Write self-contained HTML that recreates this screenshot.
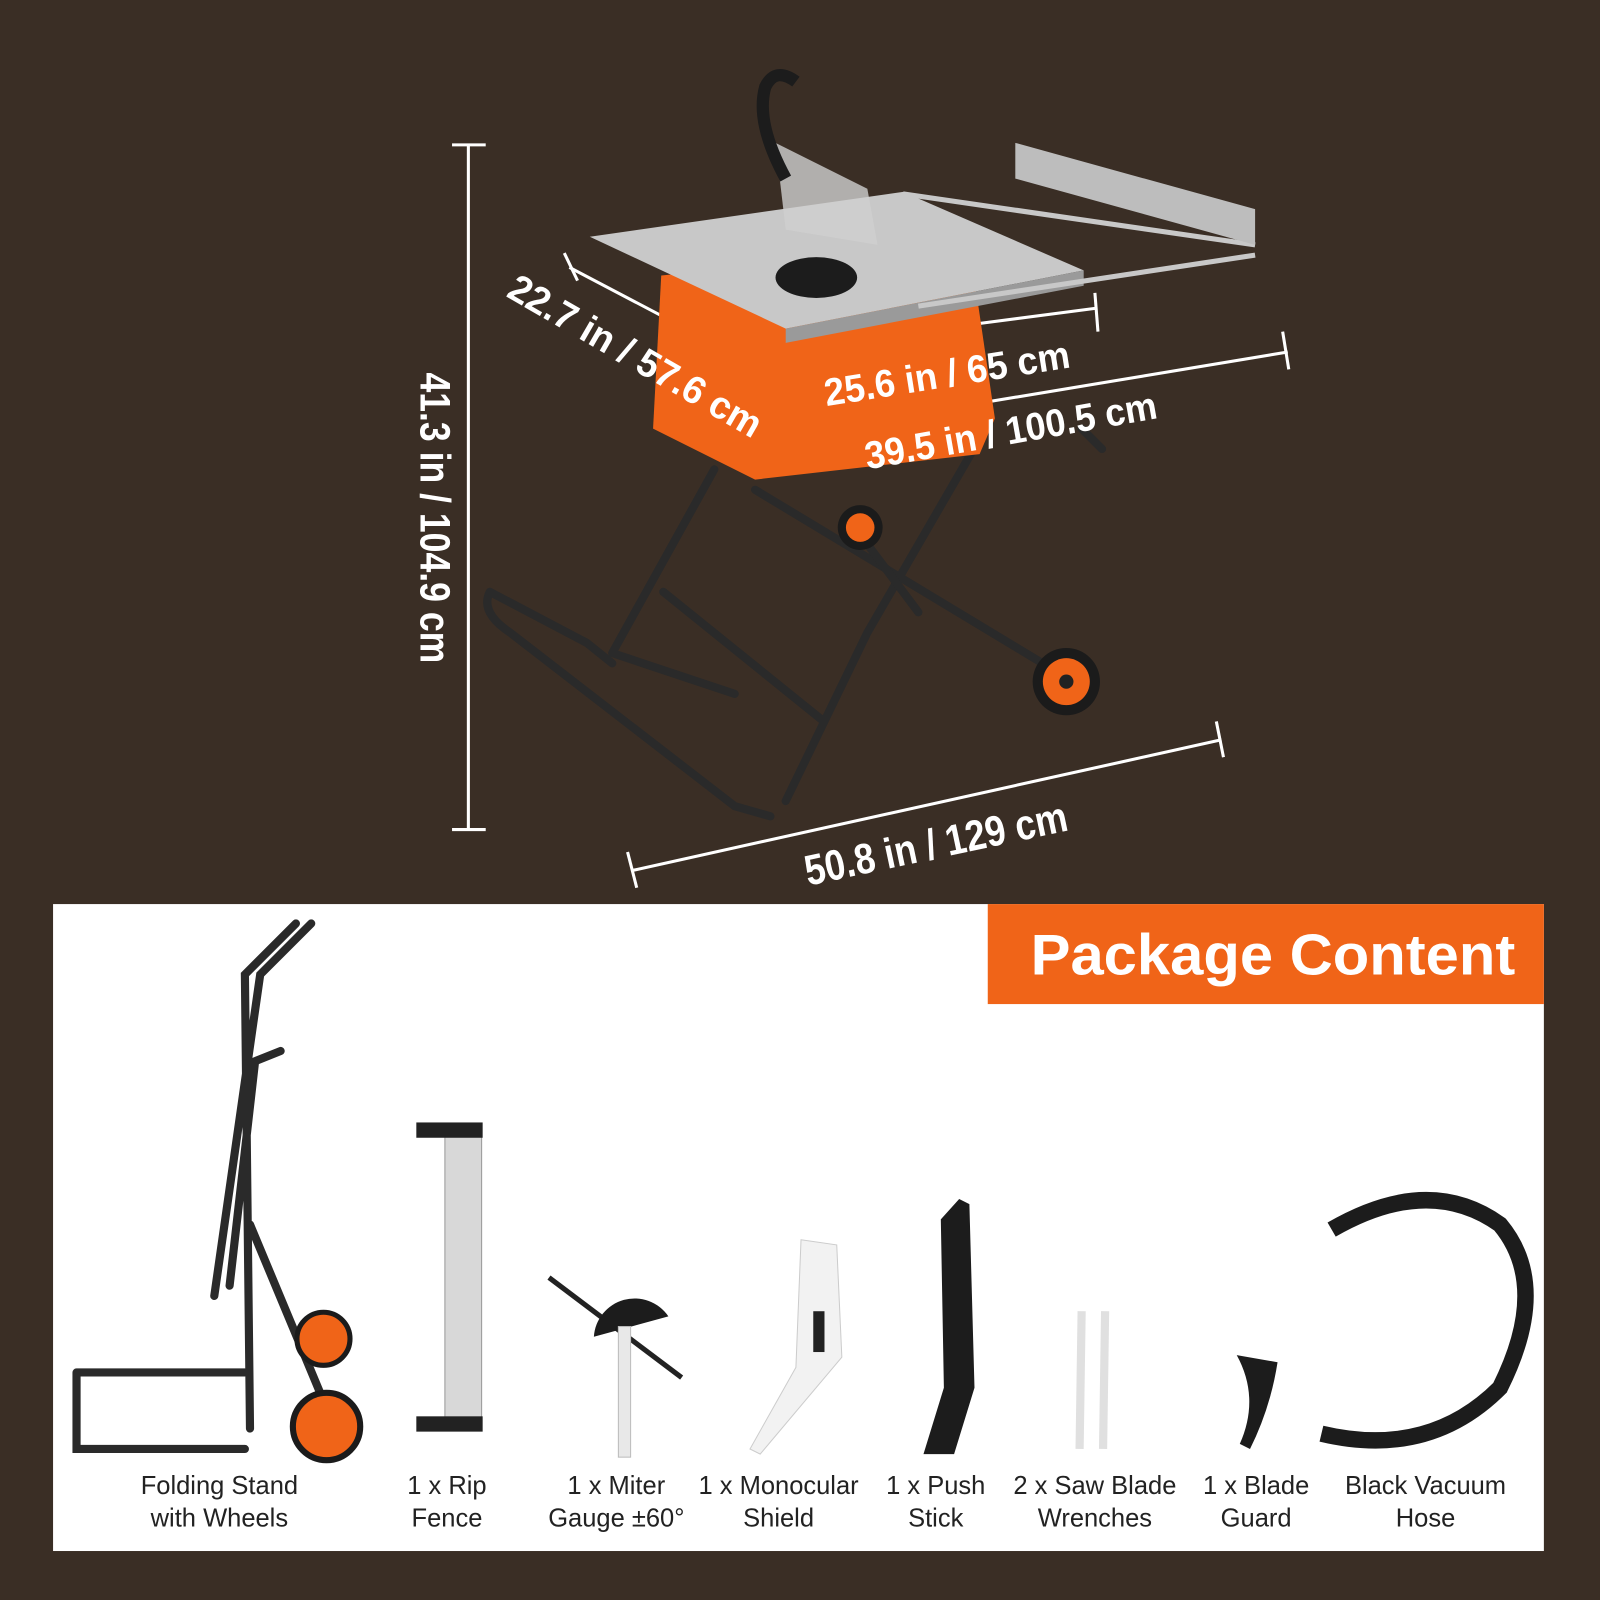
<!DOCTYPE html>
<html><head><meta charset="utf-8"><style>
html,body{margin:0;padding:0;background:#3a2e25;}
svg{display:block}
</style></head><body>
<svg width="1600" height="1600" viewBox="0 0 1568 1568" xmlns="http://www.w3.org/2000/svg" font-family="Liberation Sans, sans-serif">
<rect width="1568" height="1568" fill="#3a2e25"/>
<g stroke="#fff" stroke-width="3" fill="none">
<line x1="459" y1="142" x2="459" y2="813"/><line x1="443" y1="142" x2="476" y2="142"/><line x1="443" y1="813" x2="476" y2="813"/>
<line x1="620" y1="853" x2="1197" y2="725"/><line x1="615" y1="835" x2="624" y2="870"/><line x1="1192" y1="707" x2="1199" y2="742"/>
<line x1="558" y1="262" x2="735" y2="355"/><line x1="553" y1="248" x2="566" y2="275"/><line x1="726" y1="338" x2="744" y2="368"/>
<line x1="745" y1="345" x2="1075" y2="302"/><line x1="745" y1="330" x2="748" y2="378"/><line x1="1073" y1="287" x2="1076" y2="325"/>
<line x1="762" y1="428" x2="1262" y2="345"/><line x1="758" y1="410" x2="764" y2="445"/><line x1="1257" y1="325" x2="1263" y2="362"/>
</g>
<g stroke="#2a2a2a" stroke-width="8" fill="none" stroke-linecap="round">
<path d="M480 580 L575 630 L600 650 M480 580 Q470 600 500 620 L720 790 L755 800"/>
<path d="M700 460 L600 640 M960 430 L850 620 L770 785 M740 480 L1030 655 M650 580 L805 705 M600 640 L720 680"/>
<path d="M1060 420 L1080 440 M840 520 L900 600"/>
</g>
<circle cx="1045" cy="668" r="33" fill="#1b1b1b"/><circle cx="1045" cy="668" r="23" fill="#f06418"/><circle cx="1045" cy="668" r="7" fill="#222"/>
<circle cx="843" cy="517" r="22" fill="#1b1b1b"/><circle cx="843" cy="517" r="14" fill="#f06418"/>
<polygon points="648,270 950,240 975,410 960,445 740,470 640,420" fill="#f06418"/>
<polygon points="578,232 885,188 1062,265 770,322" fill="#c8c8c8"/>
<polygon points="770,322 1062,265 1062,280 770,336" fill="#9a9a9a"/>
<g stroke="#c8c8c8" stroke-width="5"><line x1="885" y1="190" x2="1230" y2="240"/><line x1="900" y1="300" x2="1230" y2="250"/></g>
<polygon points="995,140 1230,205 1230,240 995,175" fill="#bdbdbd"/>
<polygon points="760,140 850,185 860,240 770,225" fill="#d0d0d0" opacity="0.8"/>
<path d="M770 175 Q740 120 750 85 Q760 65 780 80" stroke="#1c1c1c" stroke-width="12" fill="none"/>
<ellipse cx="800" cy="272" rx="40" ry="20" fill="#1c1c1c"/>
<g fill="#fff" font-weight="bold" lengthAdjust="spacingAndGlyphs">
<text transform="translate(412,365) rotate(90)" font-size="42" textLength="285" lengthAdjust="spacingAndGlyphs">41.3 in / 104.9 cm</text>
<text transform="translate(792,868) rotate(-12)" font-size="42" textLength="262" lengthAdjust="spacingAndGlyphs">50.8 in / 129 cm</text>
<text transform="translate(495,290) rotate(30)" font-size="38" textLength="280" lengthAdjust="spacingAndGlyphs">22.7 in / 57.6 cm</text>
<text transform="translate(810,398) rotate(-9)" font-size="38" textLength="243" lengthAdjust="spacingAndGlyphs">25.6 in / 65 cm</text>
<text transform="translate(850,460) rotate(-10)" font-size="38" textLength="290" lengthAdjust="spacingAndGlyphs">39.5 in / 100.5 cm</text>
</g>
<rect x="52" y="886" width="1461" height="634" fill="#fff"/>
<rect x="968" y="886" width="545" height="98" fill="#f06418"/>
<text x="1010" y="955" fill="#fff" font-weight="bold" font-size="56" textLength="475" lengthAdjust="spacingAndGlyphs">Package Content</text>
<g stroke="#2a2a2a" stroke-width="8" fill="none" stroke-linecap="round">
<path d="M305 905 L255 955 L210 1270 M290 905 L240 955 L245 1400 M275 1030 L250 1040 L225 1260 M245 1200 L320 1380"/>
<path d="M75 1345 L240 1345 M75 1345 L75 1420 L240 1420"/>
</g>
<circle cx="320" cy="1398" r="33" fill="#f06418" stroke="#1b1b1b" stroke-width="6"/>
<circle cx="317" cy="1312" r="26" fill="#f06418" stroke="#1b1b1b" stroke-width="5"/>
<rect x="436" y="1110" width="36" height="285" fill="#d8d8d8" stroke="#999"/>
<rect x="408" y="1100" width="65" height="15" fill="#222"/><rect x="408" y="1388" width="65" height="15" fill="#222"/>
<line x1="538" y1="1252" x2="668" y2="1350" stroke="#222" stroke-width="5"/>
<path d="M582 1310 A40 40 0 0 1 655 1290 Z" fill="#1c1c1c"/>
<rect x="606" y="1300" width="12" height="128" fill="#e8e8e8" stroke="#bbb"/>
<path d="M785 1215 L820 1220 L825 1330 L745 1425 L735 1420 L780 1340 Z" fill="#f2f2f2" stroke="#ccc"/>
<rect x="797" y="1285" width="11" height="40" fill="#222"/>
<path d="M940 1175 L950 1180 L955 1360 L935 1425 L905 1425 L925 1360 L922 1195 Z" fill="#1c1c1c"/>
<g stroke="#e0e0e0" stroke-width="8"><line x1="1060" y1="1285" x2="1058" y2="1420"/><line x1="1083" y1="1285" x2="1081" y2="1420"/></g>
<path d="M1212 1328 L1252 1335 Q1245 1380 1225 1420 L1215 1415 Q1235 1370 1212 1328 Z" fill="#1c1c1c"/>
<path d="M1305 1205 Q1400 1150 1470 1200 Q1520 1260 1470 1360 Q1400 1430 1295 1405" stroke="#1c1c1c" stroke-width="16" fill="none"/>
<g font-size="25" fill="#222" text-anchor="middle">
<text x="215" y="1464">Folding Stand</text><text x="215" y="1496">with Wheels</text>
<text x="438" y="1464">1 x Rip</text><text x="438" y="1496">Fence</text>
<text x="604" y="1464">1 x Miter</text><text x="604" y="1496">Gauge ±60°</text>
<text x="763" y="1464">1 x Monocular</text><text x="763" y="1496">Shield</text>
<text x="917" y="1464">1 x Push</text><text x="917" y="1496">Stick</text>
<text x="1073" y="1464">2 x Saw Blade</text><text x="1073" y="1496">Wrenches</text>
<text x="1231" y="1464">1 x Blade</text><text x="1231" y="1496">Guard</text>
<text x="1397" y="1464">Black Vacuum</text><text x="1397" y="1496">Hose</text>
</g>
</svg>
</body></html>
